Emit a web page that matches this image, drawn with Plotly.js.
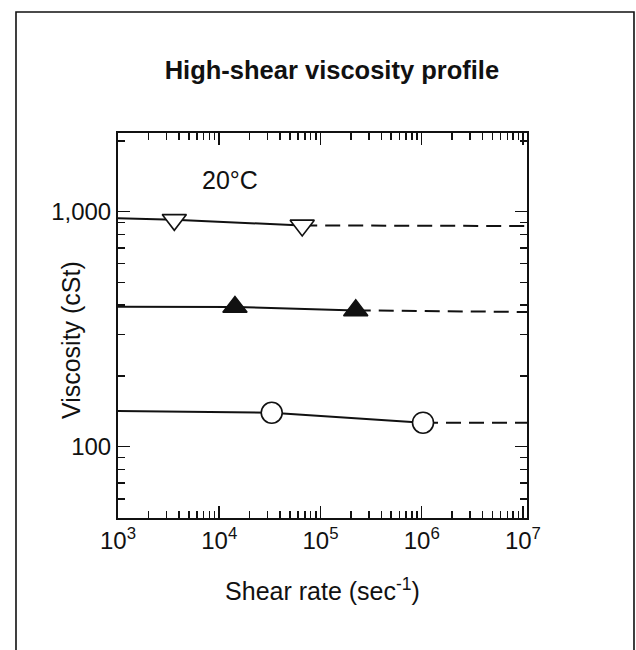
<!DOCTYPE html>
<html>
<head>
<meta charset="utf-8">
<script src="https://cdn.plot.ly/plotly-3.0.1.min.js"></script>
<style>
html,body{margin:0;padding:0;background:#fff;}
#chart{width:636px;height:650px;}
</style>
</head>
<body>
<div id="chart"></div>
<script>
// ---- data ----
// Series A: open down-triangles
const solidXA = [1000, 3600, 66000];
const solidYA = [937, 922, 873];
const markXA = [3600, 66000];
const markYA = [922, 873];
const dashXA = [66000, 11000000];
const dashYA = [873, 868];

// Series B: filled up-triangles
const solidXB = [1000, 14300, 223000];
const solidYB = [394, 393, 380];
const markXB = [14300, 223000];
const markYB = [393, 380];
const dashXB = [223000, 11000000];
const dashYB = [380, 374];

// Series C: open circles
const solidXC = [1000, 33000, 1030000];
const solidYC = [142, 139.5, 126.5];
const markXC = [33000, 1030000];
const markYC = [139.5, 126.5];
const dashXC = [1030000, 11000000];
const dashYC = [126.5, 126.5];

// axis ticks
const xTickVals = [1e3, 1e4, 1e5, 1e6, 1e7];
const xTickText = ['10<sup>3</sup>', '10<sup>4</sup>', '10<sup>5</sup>', '10<sup>6</sup>', '10<sup>7</sup>'];
const yTickVals = [100, 1000];
const yTickText = ['100', '1,000'];

const xMinor = [];
[1e3, 1e4, 1e5, 1e6].forEach(d => { for (let k = 2; k <= 9; k++) xMinor.push(k * d); });
const yMinor = [60, 70, 80, 90, 200, 300, 400, 500, 600, 700, 800, 900, 2000];

const FONT = 'Liberation Sans, Arial, Helvetica, sans-serif';
const solidLine = {color: '#111', width: 2};
const dashLine = {color: '#111', width: 2, dash: '15px,8px'};

function solid(x, y) { return {x: x, y: y, mode: 'lines', line: solidLine, showlegend: false, hoverinfo: 'skip'}; }
function dashed(x, y) { return {x: x, y: y, mode: 'lines', line: dashLine, showlegend: false, hoverinfo: 'skip'}; }
function marks(x, y, sym, fill, size) {
  return {x: x, y: y, mode: 'markers', showlegend: false, cliponaxis: false,
    marker: {symbol: sym, size: size, color: fill, line: {color: '#111', width: 1.6}}};
}

const traces = [
  solid(solidXA, solidYA), dashed(dashXA, dashYA), marks(markXA, markYA, 'triangle-down', '#fff', 21),
  solid(solidXB, solidYB), dashed(dashXB, dashYB), marks(markXB, markYB, 'triangle-up', '#111', 21),
  solid(solidXC, solidYC), dashed(dashXC, dashYC), marks(markXC, markYC, 'circle', '#fff', 21)
];

const axisCommon = {
  type: 'log', showline: true, linecolor: '#111', linewidth: 2, mirror: 'allticks',
  ticks: 'inside', ticklen: 12, tickwidth: 1.5, tickcolor: '#111',
  showgrid: false, zeroline: false, tickmode: 'array'
};

const layout = {
  width: 636, height: 650,
  paper_bgcolor: '#fff', plot_bgcolor: '#fff',
  margin: {l: 118, r: 109, t: 133, b: 132},
  font: {family: FONT, color: '#111'},
  title: {text: '<b>High-shear viscosity profile</b>', font: {family: FONT, size: 25.5, color: '#111'},
          xref: 'paper', x: 0.523, xanchor: 'center', yref: 'container', y: 0.892, yanchor: 'middle'},
  xaxis: Object.assign({}, axisCommon, {
    range: [3, 7.04], tickvals: xTickVals, ticktext: xTickText,
    tickfont: {family: FONT, size: 24, color: '#111'},
    minor: {tickmode: 'array', tickvals: xMinor, ticks: 'inside', ticklen: 7, tickwidth: 1.5, tickcolor: '#111', showgrid: false},
    title: {text: 'Shear rate (sec<sup>-1</sup>)', font: {family: FONT, size: 25, color: '#111'}, standoff: 30}
  }),
  yaxis: Object.assign({}, axisCommon, {
    range: [1.697, 3.334], tickvals: yTickVals, ticktext: yTickText,
    tickfont: {family: FONT, size: 24, color: '#111'},
    minor: {tickmode: 'array', tickvals: yMinor, ticks: 'inside', ticklen: 7, tickwidth: 1.5, tickcolor: '#111', showgrid: false}
  }),
  annotations: [
    {text: '20°C', xref: 'x', yref: 'y', x: 4.11, y: 3.135, showarrow: false,
     font: {family: FONT, size: 25, color: '#111'}, xanchor: 'center', yanchor: 'middle'},
    {text: 'Viscosity (cSt)', xref: 'paper', yref: 'paper', x: -0.115, y: 0.462, textangle: -90,
     showarrow: false, font: {family: FONT, size: 25, color: '#111'}, xanchor: 'center', yanchor: 'middle'}
  ],
  shapes: [
    {type: 'rect', xref: 'paper', yref: 'paper', x0: -0.2494, x1: 1.2616, y0: -0.40, y1: 1.3143,
     line: {color: '#111', width: 1.6}, fillcolor: 'rgba(0,0,0,0)', layer: 'below'}
  ]
};

Plotly.newPlot('chart', traces, layout, {displayModeBar: false, staticPlot: true});
</script>
</body>
</html>
